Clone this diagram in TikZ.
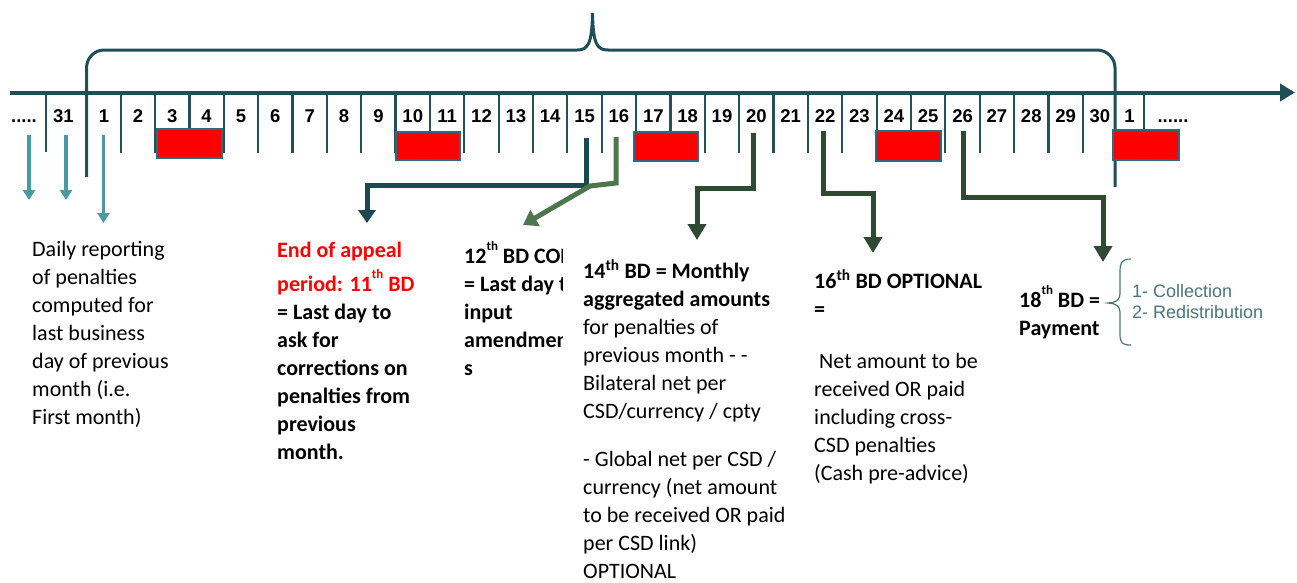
\documentclass[tikz,border=0pt]{standalone}
\usepackage{fontspec}
\setmainfont{Carlito}
\newfontfamily\arialf{Liberation Sans}
\usetikzlibrary{arrows.meta}
\definecolor{axisc}{RGB}{31,78,86}
\definecolor{tickc}{RGB}{38,80,88}
\definecolor{lteal}{RGB}{74,154,164}
\definecolor{conteal}{RGB}{30,72,80}
\definecolor{greenc}{RGB}{76,118,76}
\definecolor{dgreen}{RGB}{48,74,50}
\definecolor{boxb}{RGB}{44,106,132}
\definecolor{collc}{RGB}{72,116,122}
\newcommand{\bodyf}{\fontsize{22}{28}\selectfont}
\newcommand{\hsup}[1]{\raisebox{13pt}{\fontsize{13}{13}\selectfont #1}}
\newcommand{\blk}[1]{\parbox[t]{320pt}{\raggedright\leavevmode #1}}
\begin{document}
\begin{tikzpicture}[x=1pt,y=-1pt,
  daytick/.style={draw=tickc,line width=2.2pt},
  daylbl/.style={anchor=base,inner sep=0pt,font=\arialf\bfseries\fontsize{18.5}{18.5}\selectfont},
  holiday/.style={fill=red,draw=boxb,line width=2pt},
  txt/.style={anchor=base west,inner sep=0pt,font=\bodyf},
  bracec/.style={draw=axisc,line width=3pt},
  lightarrow/.style={draw=lteal,line width=3.8pt,-{Triangle[width=12pt,length=10pt]}},
  tealcon/.style={draw=conteal,line width=5pt,-{Triangle[width=17pt,length=13pt]}},
  greencon/.style={draw=greenc,line width=5pt,-{Triangle[width=18pt,length=14pt]}},
  dgreencon/.style={draw=dgreen,line width=5pt,-{Triangle[width=18pt,length=16pt]}}]
\useasboundingbox (0,0) rectangle (1297,582);

% top brace
\draw[bracec] (86.5,177) -- (86.5,68) to[out=90,in=180] (104,50) -- (577,50)
  .. controls (588,50) and (592,44) .. (592.5,13)
  .. controls (593,44) and (597,50) .. (608,50) -- (1097,50) to[out=0,in=90] (1115,68) -- (1115,187);

% axis
\draw[draw=axisc,line width=4pt,-{Triangle[width=17pt,length=15pt]}] (10,92.5) -- (1295,92.5);

% ticks
\draw[daytick] (45.7,93) -- (45.7,152);
\foreach \i in {0,...,28} \draw[daytick] ({120.7+34.36*\i},93) -- ++(0,60);
\draw[daytick] (1144,93) -- (1144,130);

% day labels
\node[daylbl] (dots0) at (24,122.5) {.....};
\node[daylbl] (d31) at (63.5,122.5) {31};
\node[daylbl] (d1) at (104,122.5) {1};
\foreach \d [count=\i from 0] in {2,...,30}
  \node[daylbl] (d\d) at ({137.9+34.36*\i},122.5) {\d};
\node[daylbl] (n1) at (1129.5,122.5) {1};
\node[daylbl] (dots1) at (1173,122.5) {......};

% non-business days
\node[holiday,inner sep=0pt,minimum width=65pt,minimum height=28.5pt,anchor=north west] (h1) at (156,128) {};
\node[holiday,inner sep=0pt,minimum width=64pt,minimum height=28pt,anchor=north west] (h2) at (395,131) {};
\node[holiday,inner sep=0pt,minimum width=64pt,minimum height=29pt,anchor=north west] (h3) at (633,131) {};
\node[holiday,inner sep=0pt,minimum width=65pt,minimum height=30pt,anchor=north west] (h4) at (875,130) {};
\node[holiday,inner sep=0pt,minimum width=66pt,minimum height=30pt,anchor=north west] (h5) at (1112,129) {};

% connector coordinates
\coordinate (a1s) at (29,135);   \coordinate (a1t) at (29,200);
\coordinate (a2s) at (66,135);   \coordinate (a2t) at (66,200);
\coordinate (a3s) at (103.5,135);\coordinate (a3t) at (103.5,223);
\coordinate (s15) at (586.5,138); \coordinate (t15) at (367,223);
\coordinate (s16) at (616,137);  \coordinate (k16) at (590,186); \coordinate (t16) at (523,225);
\coordinate (s20) at (753.5,133); \coordinate (t20) at (697,240);
\coordinate (s22) at (823,131);  \coordinate (t22) at (873,253);
\coordinate (s26) at (963,131);  \coordinate (t26) at (1103,262);

\draw[lightarrow] (a1s) -- (a1t);
\draw[lightarrow] (a2s) -- (a2t);
\draw[lightarrow] (a3s) -- (a3t);
\draw[tealcon] (s15) -- ++(0,47) -| (t15);
\draw[greencon] (s16) -- (616,183) -- (k16) -- (t16);
\draw[dgreencon] (s20) -- ++(0,55) -| (t20);
\draw[dgreencon] (s22) -- ++(0,62) -| (t22);
\draw[dgreencon] (s26) -- ++(0,66) -| (t26);

% texts
\node[txt] (daily) at (32,256) {\blk{Daily reporting\\of penalties\\computed for\\last business\\day of previous\\month (i.e.\\First month)}};

\node[txt] (appeal) at (277,257) {\blk{\bfseries\textcolor{red}{End of appeal}\\[6pt]\textcolor{red}{period: 11\hsup{th} BD}\\= Last day to\\ask for\\corrections on\\penalties from\\previous\\month.}};

\begin{scope}
\clip (450,230) rectangle (562.5,420);
\node[txt] (twelve) at (464,263) {\blk{\bfseries 12\hsup{th} BD COB\\= Last day to\\input\\amendment\\s}};
\end{scope}

\node[txt] (fourteen) at (583,278) {\blk{{\bfseries 14\textsuperscript{th} BD = Monthly\\aggregated amounts}\\for penalties of\\previous month - -\\Bilateral net per\\CSD/currency / cpty\\[20pt]- Global net per CSD /\\currency (net amount\\to be received OR paid\\per CSD link)\\OPTIONAL}};

\node[txt] (sixteen) at (814,288) {\blk{{\bfseries 16\textsuperscript{th} BD OPTIONAL\\=}\\[24pt]\hspace*{5pt}Net amount to be\\received OR paid\\including cross-\\CSD penalties\\(Cash pre-advice)}};

\node[txt] (eighteen) at (1019,307) {\blk{\bfseries 18\hsup{th} BD =\\Payment}};

% collection brace
\draw[draw=collc,line width=1.2pt] (1131,259) .. controls (1122,259) and (1120,262) .. (1120,272)
  -- (1120,294) .. controls (1120,300) and (1115,303) .. (1108,303)
  .. controls (1115,303) and (1120,306) .. (1120,312)
  -- (1120,334) .. controls (1120,343) and (1122,345) .. (1131,345);
\node[anchor=base west,inner sep=0pt,text=collc,font=\arialf\fontsize{18}{21}\selectfont] (coll) at (1132,297)
  {\parbox[t]{200pt}{1- Collection\\2- Redistribution}};
\end{tikzpicture}
\end{document}
